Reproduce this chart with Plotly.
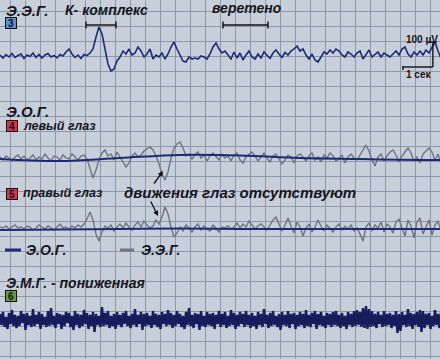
import numpy as np
import plotly.graph_objects as go

W, H = 440, 359
PX_PER_SEC = 30.0

# ---------------- data ----------------
eeg_fs = 10.0  # Hz
eeg_uv = [4, -8, 6, -4, 10, -6, 2, 8, -10, 4, -2, 12, -6, 6, -8, 4, 10, -4, 2, -8, 6, 0,
          16, 28, 8, -6, 4, -10, 6, 2, 12,
          28, 76, 116, 88, 28, -32, -60, -52, -20, -4,
          20, 8, 28, 4, 12, 36, 20, -4, 8, 28,
          -12, 4, -4, 12, -12, 8, 36, 56, 28, 4,
          -20, -24, -4, -12, -8, -12, 0, -4, -12, 8,
          36, 52, 28, 12, 20,
          4, -12, 16, -8, 12, -16, 4, 20, -4, -12, 8, -8, 16, 4, -10, 12, 24, 8, -6, 14, 4, 20, 28,
          40, 20, 28, 4, -12, 8, -16,
          -24, -4, 16, 8, 24, 12, 28,
          20, 4, -4, 16, 8, -4, 12,
          20, -12, 8, 24, -4, 8, 16, -4, 12, 4,
          -4, 8, 20, 4, 28, 36, 8, -4, 16, 4,
          20, 4, 24, 12, 36, 56, 20, -8, -20, 0, 0]

left_eye_eeg_uv = [4, -8, 8, 0, -12, 4, 12, -4, 8, -8, 0, 12, -8, 4, -4, 16, 0, -12, 8, 4,
                   -8, 12, 0, -4, 16, 4, -8, 8, 12, -4,
                   -40, -80, -48, -8, 20,
                   32, 8, 16, -8, 24, 4, -16, -36, -20, 8, 20, 4, 12, 28, 36,
                   44, 32, 8, -24, -64, -88, -56, 0, 40, 56, 64,
                   40, 8, 16, -4, 12, 24, 0, 12, -12, 8, 20, 4, -8, 16, 0,
                   8, -12, 12, 20, -8, -20, 4, 16, 24, 8, -12, 4, 20, 0, -16, 8, 16, -4, -24, -8,
                   12, 4, -20, 8,
                   16, 4, -12, 8, 20, -8, 4, -16, 12, 0, 20, 8, -12, -4, 12, -20, 4, 16, 0, -8,
                   12, 36, 52, 28, -8, -32, 4, 16, -12, 8, 24,
                   32, 12, -16, 8, 24, 40, 20, -12, 4, -20, 16, 28, 40, 24, -8, 16, -24, 8, 12, -4]

right_eye_eeg_uv = [8, 4, 12, 0, 8, 16, 4, 8, 0, 12, 8, -4, 4, 16, 8, 0, 12, 4, -4, 8,
                    20, 4, 8, 0, 12, 4, 16, 8, 20, 40,
                    68, 36, -20, -48, -12,
                    12, 4, 16, -8, 8, 20, 4, 24, 8, -4, 16, 28, 8, 32, 16,
                    4, 12, 36, 20, 48, 88, 60, 8, -32, -16, 8,
                    -8, 16, 4, -12, 8, 20, -4, 12, 0, -8, 16, 4, -12, 8, 4,
                    12, 0, 8, 24, 4, 20, 8, 32, 16, 0, 12, 20, 8, -4, 16, 36, 48, 20, -8, 16,
                    44, 12, -16, 28,
                    8, -28, 4, 20, -12, 8, 36, 12, -8, 16, 4, -12, 8, 20, -4, 12, 0, 16, -8, 4,
                    -20, -48, 8, 24, -8, 16, 4, 28, -12, 20, 8,
                    -16, 28, 40, 4, -28, 36, 12, -36, 28, 44, -20, 8, 36, -24, 16, 32, -8, 12, 4, 0]

eog_fs = 0.5  # Hz
left_eye_eog_uv = [-4, -12, 0, 12, 10, 0, -4, -8, -8]
right_eye_eog_uv = [-4, -2, 0, 2, 0, 0, 0, 0, 0]

emg_fs = 20.0  # Hz
emg_uv = [6, -5, 8, -7, 3, -9, 7, -4, 10, -6, 5, -8, 4, -6, 9, -3, 6, -10, 7, -5,
          4, -7, 11, -6, 5, -4, 8, -9, 6, -5, 3, -7, 9, -6, 12, -5, 4, -8, 7, -4,
          6, -9, 5, -6, 8, -3, 7, -7, 4, -10, 9, -5, 6, -8, 5, -6, 10, -4, 7, -9,
          5, -6, 8, -12, 6, -5, 4, -7, 13, -6, 7, -5, 9, -8, 4, -6, 6, -9, 8, -5,
          5, -7, 7, -4, 9, -6, 4, -8, 6, -5, 11, -7, 5, -4, 8, -10, 6, -6, 7, -5,
          4, -8, 9, -5, 6, -7, 5, -9, 8, -4, 6, -6, 10, -5, 7, -8, 5, -6, 9, -4,
          6, -7, 4, -9, 8, -5, 12, -6, 5, -8, 7, -4, 6, -10, 9, -6, 4, -7, 8, -5,
          6, -6, 7, -9, 5, -4, 9, -7, 6, -5, 8, -8, 4, -6, 10, -5, 7, -9, 5, -6,
          8, -4, 6, -7, 9, -5, 5, -8, 7, -6, 4, -9, 8, -5, 6, -7, 11, -4, 5, -8,
          7, -6, 9, -5, 4, -7, 6, -10, 8, -5, 5, -6, 9, -8, 6, -4, 7, -9, 5, -6,
          8, -5, 6, -8, 10, -6, 5, -7, 7, -4, 9, -9, 6, -5, 8, -6, 4, -8, 7, -5,
          6, -7, 8, -5, 9, -6, 5, -8, 7, -6, 4, -9, 8, -5, 6, -7, 9, -6, 10, -5,
          8, -7, 12, -8, 14, -9, 11, -7, 9, -6, 6, -8, 8, -4, 5, -7, 9, -6, 6, -5,
          7, -8, 5, -6, 9, -13, 6, -11, 8, -5, 5, -7, 11, -6, 7, -9, 6, -5, 8, -7,
          10, -12, 9, -8, 6, -5, 7, -9, 4, -6, 10, -5, 6, -8, 8, -6, 5, -7, 7, -5,
          6]

scale_sec = 1.0
scale_uv = 100.0

# ---------------- styles ----------------
BG = "#c7cfdb"
GRID = "#8d97a7"
NAVY = "#1d2a78"
EMG_C = "#151d5c"
GRAY = "#6f747e"
TXT = "#16161e"
FONT = "Liberation Sans, Arial, sans-serif"

t_eeg = np.arange(len(eeg_uv)) / eeg_fs
t_eog = np.arange(len(left_eye_eog_uv)) / eog_fs
t_emg = np.arange(len(emg_uv)) / emg_fs


def dom(top_px, bottom_px):
    return [1 - bottom_px / H, 1 - top_px / H]


fig = go.Figure()
common = dict(mode="lines", hoverinfo="skip", showlegend=False, xaxis="x")
# invisible trace so the full-size background grid subplot is rendered
fig.add_trace(go.Scatter(x=[0.0], y=[H / 2], xaxis="x", yaxis="y", mode="markers",
                         marker=dict(opacity=0), hoverinfo="skip", showlegend=False))
fig.add_trace(go.Scatter(x=t_eeg, y=eeg_uv, yaxis="y2", line=dict(color=NAVY, width=1.6), **common))
fig.add_trace(go.Scatter(x=t_eeg, y=left_eye_eeg_uv, yaxis="y3", line=dict(color=GRAY, width=1.4), **common))
fig.add_trace(go.Scatter(x=t_eog, y=left_eye_eog_uv, yaxis="y3", line=dict(color=NAVY, width=2, shape="spline"), **common))
fig.add_trace(go.Scatter(x=t_eeg, y=right_eye_eeg_uv, yaxis="y4", line=dict(color=GRAY, width=1.4), **common))
fig.add_trace(go.Scatter(x=t_eog, y=right_eye_eog_uv, yaxis="y4", line=dict(color=NAVY, width=2, shape="spline"), **common))
fig.add_trace(go.Scatter(x=t_emg, y=emg_uv, yaxis="y5", line=dict(color=EMG_C, width=2.4), **common))

hidden = dict(visible=False, showgrid=False, zeroline=False, anchor="x", fixedrange=True)
fig.update_layout(
    width=W, height=H,
    margin=dict(l=0, r=0, t=0, b=0, pad=0),
    paper_bgcolor=BG, plot_bgcolor="rgba(0,0,0,0)",
    xaxis=dict(range=[0, W / PX_PER_SEC], showgrid=True, gridcolor=GRID, gridwidth=1,
               dtick=0.5, tick0=10 / PX_PER_SEC, showticklabels=False, zeroline=False,
               ticks="", showline=False, fixedrange=True, anchor="y"),
    yaxis=dict(range=[H, 0], domain=[0, 1], showgrid=True, gridcolor=GRID, gridwidth=1,
               tickmode="linear", dtick=15, tick0=11, showticklabels=False, zeroline=False,
               ticks="", showline=False, fixedrange=True),
    yaxis2=dict(range=[-200, 200], domain=dom(6, 106), **hidden),
    yaxis3=dict(range=[-128, 128], domain=dom(126, 190), **hidden),
    yaxis4=dict(range=[-128, 128], domain=dom(197, 261), **hidden),
    yaxis5=dict(range=[-20, 20], domain=dom(300, 340), **hidden),
)

# scale bars (in data units)
bx0 = 13.43
by0 = -44
sh = []
line_k = dict(color="#111111", width=1.4)
sh.append(dict(type="line", xref="x", yref="y2", x0=bx0, x1=bx0 + scale_sec, y0=by0, y1=by0, line=line_k))
sh.append(dict(type="line", xref="x", yref="y2", x0=bx0 + scale_sec, x1=bx0 + scale_sec, y0=by0, y1=by0 + scale_uv, line=line_k))
sh.append(dict(type="line", xref="x", yref="y2", x0=bx0 + scale_sec - 0.13, x1=bx0 + scale_sec + 0.13,
               y0=by0 + scale_uv, y1=by0 + scale_uv, line=line_k))
sh.append(dict(type="line", xref="x", yref="y2", x0=bx0, x1=bx0, y0=by0 - 12, y1=by0 + 4, line=line_k))

# K-complex / spindle markers
for a, b in [(86, 116), (223, 268)]:
    yy = 1 - 25 / H
    sh.append(dict(type="line", xref="x", yref="paper", x0=a / PX_PER_SEC, x1=b / PX_PER_SEC, y0=yy, y1=yy, line=line_k))
    for e in (a, b):
        sh.append(dict(type="line", xref="x", yref="paper", x0=e / PX_PER_SEC, x1=e / PX_PER_SEC,
                       y0=1 - 21.5 / H, y1=1 - 28.5 / H, line=line_k))

# legend keys
sh.append(dict(type="line", xref="paper", yref="paper", x0=5 / W, x1=21 / W, y0=1 - 250 / H, y1=1 - 250 / H,
               line=dict(color=NAVY, width=3)))
sh.append(dict(type="line", xref="paper", yref="paper", x0=120 / W, x1=134 / W, y0=1 - 250 / H, y1=1 - 250 / H,
               line=dict(color=GRAY, width=3)))
fig.update_layout(shapes=sh)

ann = []


def txt(s, xpx, ypx, size, bold=True, italic=True, anchor="left", color=TXT):
    ann.append(dict(text=s, xref="paper", yref="paper", x=xpx / W, y=1 - ypx / H,
                    xanchor=anchor, yanchor="middle", showarrow=False,
                    font=dict(family=FONT, size=size, color=color,
                              weight="bold" if bold else "normal",
                              style="italic" if italic else "normal")))


def badge(s, xc, yc, fill):
    ann.append(dict(text=s, xref="paper", yref="paper", x=xc / W, y=1 - yc / H,
                    xanchor="center", yanchor="middle", showarrow=False,
                    bgcolor=fill, bordercolor="#111111", borderwidth=1, borderpad=0,
                    width=10, height=10,
                    font=dict(family=FONT, size=10, color="#111111", weight="bold")))


txt("Э.Э.Г.", 4, 10, 15, bold=True)
txt("К- комплекс", 63, 10, 14)
txt("веретено", 210, 8, 14)
txt("100 µV", 422, 40, 10, italic=False, anchor="center")
txt("1 сек", 418, 75, 10, italic=False, anchor="center")
txt("Э.О.Г.", 4, 111, 15, bold=True)
txt("левый глаз", 21, 126, 12.5)
txt("правый глаз", 21, 193, 12.5)
txt("движения глаз отсутствуют", 122, 192, 15)
txt("Э.О.Г.", 24, 250, 14)
txt("Э.Э.Г.", 139, 250, 14)
txt("Э.М.Г. - пониженная", 4, 283, 14)
badge("3", 11, 23, "#5f8fd2")
badge("4", 12, 126, "#d3344f")
badge("5", 12, 194, "#d3344f")
badge("6", 11, 296, "#6c9a3e")

# arrows
ann.append(dict(text="", xref="paper", yref="paper", x=163 / W, y=1 - 171 / H, ax=-10, ay=14,
                showarrow=True, arrowhead=2, arrowsize=0.8, arrowwidth=1.3, arrowcolor="#111111"))
ann.append(dict(text="", xref="paper", yref="paper", x=158 / W, y=1 - 216 / H, ax=-8, ay=-16,
                showarrow=True, arrowhead=2, arrowsize=0.8, arrowwidth=1.3, arrowcolor="#111111"))
fig.update_layout(annotations=ann)

fig.write_html("out.html")
